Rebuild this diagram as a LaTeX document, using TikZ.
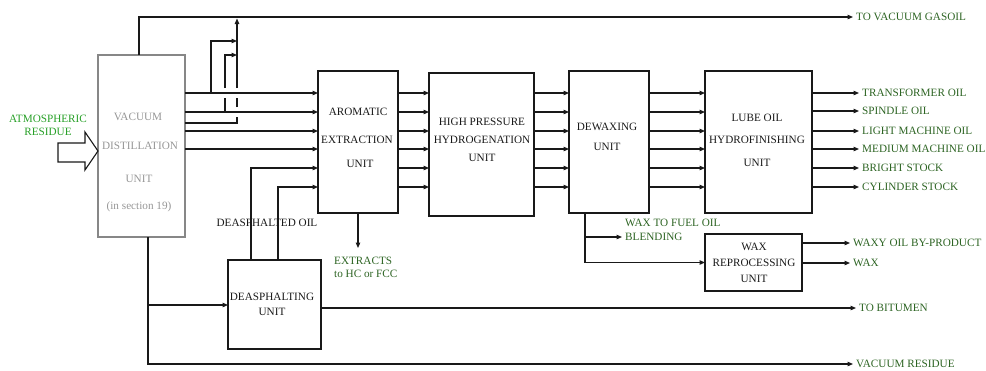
\documentclass[tikz,border=0pt]{standalone}
\usepackage{fontspec}
\setmainfont{Liberation Serif}
\usetikzlibrary{arrows.meta}
\definecolor{lblgreen}{RGB}{45,100,35}
\definecolor{atmgreen}{RGB}{40,160,40}
\definecolor{vdutext}{RGB}{150,150,150}
\definecolor{vduline}{RGB}{135,135,135}
\definecolor{ink}{RGB}{25,25,25}
\begin{document}
\begin{tikzpicture}[x=1pt,y=-1pt,
  box/.style={draw=ink, line width=1.1pt, inner sep=0pt, outer sep=0pt},
  txt/.style={font=\fontsize{11.2}{13}\selectfont, text=ink, inner sep=0pt, text height=7.5pt, text depth=0pt},
  vtxt/.style={txt, text=vdutext},
  lbl/.style={font=\fontsize{11.2}{13}\selectfont, text=lblgreen, anchor=west, inner sep=3pt, text height=7.5pt, text depth=0pt},
  ln/.style={line width=1.1pt, draw=ink},
  arr/.style={ln, -{Triangle[length=5.5pt,width=4.5pt]}},
]
\useasboundingbox (0,0) rectangle (986,370);

% ---------- boxes ----------
\node[box, draw=vduline, minimum width=87pt, minimum height=182pt] (vdu) at (141.5,146) {};
\node[box, minimum width=80pt, minimum height=142pt] (aeu) at (358,142) {};
\node[box, minimum width=105pt, minimum height=143pt] (hph) at (481.5,144.5) {};
\node[box, minimum width=80pt, minimum height=142pt] (dwu) at (609,142) {};
\node[box, minimum width=107pt, minimum height=142pt] (loh) at (758.5,142) {};
\node[box, minimum width=97pt, minimum height=57pt] (wru) at (753.5,262.5) {};
\node[box, minimum width=93pt, minimum height=89pt] (dau) at (274.5,304.5) {};

% ---------- box texts ----------
\node[vtxt] (vdu1) at (138,117) {VACUUM};
\node[vtxt] (vdu2) at (140,146) {DISTILLATION};
\node[vtxt] (vdu3) at (139,179) {UNIT};
\node[vtxt] (vdu4) at (139,206) {(in section 19)};

\node[txt] (aeu1) at (358,112) {AROMATIC};
\node[txt] (aeu2) at (357,140) {EXTRACTION};
\node[txt] (aeu3) at (360,164) {UNIT};

\node[txt] (hph1) at (482,122) {HIGH PRESSURE};
\node[txt] (hph2) at (482,140) {HYDROGENATION};
\node[txt] (hph3) at (482,158) {UNIT};

\node[txt] (dwu1) at (607,127) {DEWAXING};
\node[txt] (dwu2) at (607,147) {UNIT};

\node[txt] (loh1) at (757,118) {LUBE OIL};
\node[txt] (loh2) at (757,140) {HYDROFINISHING};
\node[txt] (loh3) at (757,163) {UNIT};

\node[txt] (wru1) at (754,247) {WAX};
\node[txt] (wru2) at (754,263) {REPROCESSING};
\node[txt] (wru3) at (754,279) {UNIT};

\node[txt] (dau1) at (272,297) {DEASPHALTING};
\node[txt] (dau2) at (272,312) {UNIT};

\node[txt] (dao) at (267,223) {DEASPHALTED OIL};

% ---------- labels ----------
\node[font=\fontsize{11.2}{13}\selectfont, text=atmgreen, align=center, inner sep=0pt] (atm) at (48,125) {ATMOSPHERIC\\RESIDUE};
\node[lbl] (gasoil) at (853,17) {TO VACUUM GASOIL};
\node[lbl] (o1) at (859,93) {TRANSFORMER OIL};
\node[lbl] (o2) at (859,111) {SPINDLE OIL};
\node[lbl] (o3) at (859,131) {LIGHT MACHINE OIL};
\node[lbl] (o4) at (859,149) {MEDIUM MACHINE OIL};
\node[lbl] (o5) at (859,168) {BRIGHT STOCK};
\node[lbl] (o6) at (859,187) {CYLINDER STOCK};
\node[lbl] (wtf1) at (622,223) {WAX TO FUEL OIL};
\node[lbl] (wtf2) at (622,237) {BLENDING};
\node[lbl] (waxy) at (850,243) {WAXY OIL BY-PRODUCT};
\node[lbl] (wax) at (850,263) {WAX};
\node[lbl] (bit) at (856,308) {TO BITUMEN};
\node[lbl] (vres) at (853,364) {VACUUM RESIDUE};
\node[font=\fontsize{11.2}{13}\selectfont, text=lblgreen, align=left, anchor=north west, inner sep=0pt] (ext) at (334,257) {EXTRACTS\\to HC or FCC};

% ---------- feed block arrow ----------
\draw[line width=1.1pt, draw=ink, fill=white] (58,143) -- (85,143) -- (85,132) -- (vdu.west |- 0,151) -- (85,170) -- (85,162) -- (58,162) -- cycle;

% ---------- VDU outputs ----------
\foreach \y in {93,112,131,149}
  \draw[arr] (vdu.east |- 0,\y) -- (aeu.west |- 0,\y);

\coordinate (j1) at (211,93);
\coordinate (j2) at (225,112);
\coordinate (c1) at (237,41);
\coordinate (c2) at (237,55);
\coordinate (c3) at (237,123);
\coordinate (ctop) at (237,18.5);
\draw[arr] (j1) |- (c1);
\draw[ln] (j2) -- (225,98);
\draw[arr] (225,88) |- (c2);
\draw[ln] (vdu.east |- c3) -- (c3) -- (237,117);
\draw[ln] (237,107) -- (237,98);
\draw[arr] (237,88) -- (ctop);

\draw[arr] (vdu.north -| 139,0) |- (gasoil.west);

\coordinate (j3) at (148,305);
\draw[arr] (vdu.south -| 148,0) |- (vres.west);
\draw[arr] (j3) -- (dau.west |- j3);

% ---------- deasphalted oil ----------
\draw[arr] (dau.north -| 251,0) |- (aeu.west |- 0,168);
\draw[arr] (dau.north -| 278,0) |- (aeu.west |- 0,187);
\draw[arr] (dau.east |- 0,308) -- (bit.west);

% ---------- main train ----------
\foreach \y in {93,112,131,149,168,187} {
  \draw[arr] (aeu.east |- 0,\y) -- (hph.west |- 0,\y);
  \draw[arr] (hph.east |- 0,\y) -- (dwu.west |- 0,\y);
  \draw[arr] (dwu.east |- 0,\y) -- (loh.west |- 0,\y);
}
\foreach \i/\y in {1/93,2/111,3/131,4/149,5/168,6/187}
  \draw[arr] (loh.east |- 0,\y) -- (o\i.west);

% ---------- extracts ----------
\coordinate (exttip) at (358,248);
\draw[arr] (aeu.south) -- (exttip);

% ---------- wax ----------
\coordinate (j4) at (585,237);
\draw[arr] (dwu.south -| 585,0) |- (wru.west);
\draw[arr] (j4) -- (wtf2.west);
\draw[arr] (wru.east |- 0,243) -- (waxy.west);
\draw[arr] (wru.east |- 0,263) -- (wax.west);
\end{tikzpicture}
\end{document}
